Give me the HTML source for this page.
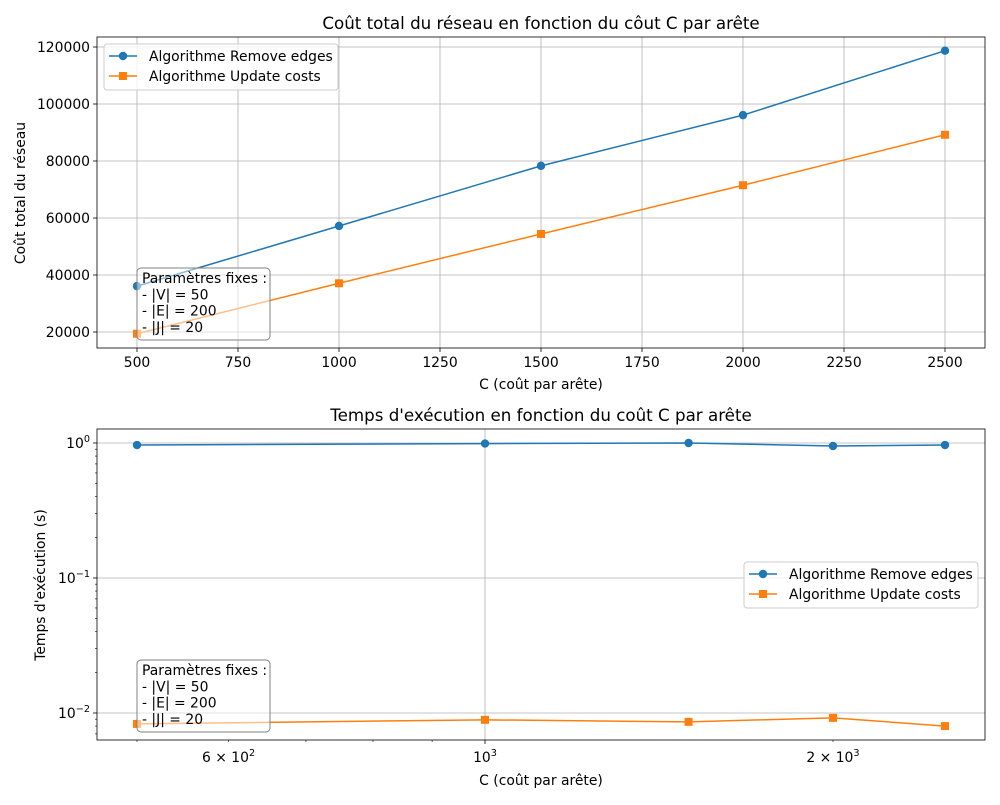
<!DOCTYPE html>
<html><head><meta charset="utf-8">
<style>
body{margin:0;background:#fff;}
svg text{font-family:"DejaVu Sans","Liberation Sans",sans-serif;fill:#000;}
</style></head>
<body>
<svg id="c" width="1000" height="800" xmlns="http://www.w3.org/2000/svg"></svg>
<script>
const categoriesC = [500, 1000, 1500, 2000, 2500];
const costRemove = [36100, 57200, 78300, 96100, 118700];
const costUpdate = [19400, 37100, 54400, 71500, 89200];
const timeRemove = [0.966, 0.99, 1.0, 0.95, 0.966];
const timeUpdate = [0.0083, 0.0089, 0.0086, 0.0092, 0.0080];
const topXTicks = [500, 750, 1000, 1250, 1500, 1750, 2000, 2250, 2500];
const topYTicks = [20000, 40000, 60000, 80000, 100000, 120000];

const NS = "http://www.w3.org/2000/svg";
const svg = document.getElementById('c');
const FS = 13.9, TFS = 16.7, SFS = 9.7;
function mk(tag, attrs, parent, text) {
  const e = document.createElementNS(NS, tag);
  for (const k in attrs) e.setAttribute(k, attrs[k]);
  if (text !== undefined) e.textContent = text;
  (parent || svg).appendChild(e);
  return e;
}
function supText(g, x, y, anchor, base, sup) {
  const t = mk('text', {x:x, y:y, 'text-anchor':anchor, 'font-size':FS}, g);
  mk('tspan', {}, t, base);
  mk('tspan', {dy:-6, 'font-size':SFS}, t, sup);
  return t;
}
const BLUE = '#1f77b4', ORANGE = '#ff7f0e';

// ---------- Top chart ----------
const T = {l:97, r:985, t:37, b:348};
const xT = v => 137 + (v - 500) * (808 / 2000);
const yT = v => 332 - (v - 20000) * (285 / 100000);
const gTop = mk('g', {});


topXTicks.forEach(v => {
  const x = xT(v);
  const gl = mk('line', {x1:x, x2:x, y1:T.t, y2:T.b, stroke:'#b0b0b0', 'stroke-width':0.8}, gTop);
  
  
  mk('line', {x1:x, x2:x, y1:T.b, y2:T.b+4, stroke:'#000', 'stroke-width':0.8}, gTop);
  const t = mk('text', {x:x, y:T.b+19, 'text-anchor':'middle', 'font-size':FS}, gTop, v);
  
  
});
topYTicks.forEach(v => {
  const y = yT(v);
  const gl = mk('line', {x1:T.l, x2:T.r, y1:y, y2:y, stroke:'#b0b0b0', 'stroke-width':0.8}, gTop);
  
  
  mk('line', {x1:T.l-4, x2:T.l, y1:y, y2:y, stroke:'#000', 'stroke-width':0.8}, gTop);
  const t = mk('text', {x:T.l-7, y:y+5, 'text-anchor':'end', 'font-size':FS}, gTop, v);
  
  
});
function series(g, xs, ys, fx, fy, color, marker, name) {
  const pts = xs.map((x,i)=>fx(x)+','+fy(ys[i])).join(' ');
  const pl = mk('polyline', {points:pts, fill:'none', stroke:color, 'stroke-width':1.5}, g);
  
  
  xs.forEach((x,i)=>{
    const cx = fx(x), cy = fy(ys[i]);
    let m;
    if (marker === 'o') m = mk('circle', {cx:cx, cy:cy, r:4.2, fill:color}, g);
    else m = mk('rect', {x:cx-4, y:cy-4, width:8, height:8, fill:color}, g);
    
    
  });
}
series(gTop, categoriesC, costRemove, xT, yT, BLUE, 'o', 'remove-edges');
series(gTop, categoriesC, costUpdate, xT, yT, ORANGE, 's', 'update-costs');
mk('rect', {x:T.l, y:T.t, width:T.r-T.l, height:T.b-T.t, fill:'none', stroke:'#000', 'stroke-width':0.8}, gTop);
let tt = mk('text', {x:541, y:29, 'text-anchor':'middle', 'font-size':TFS}, gTop, 'Coût total du réseau en fonction du côut C par arête');
 
tt = mk('text', {x:541, y:389, 'text-anchor':'middle', 'font-size':FS}, gTop, 'C (coût par arête)');
 
tt = mk('text', {x:25, y:193, 'text-anchor':'middle', 'font-size':FS, transform:'rotate(-90 25 193)'}, gTop, 'Coût total du réseau');
 

function legend(g, x, y) {
  const lg = mk('g', {}, g);
  
  
  mk('rect', {x:x, y:y, width:234, height:46, rx:3, fill:'#fff', 'fill-opacity':0.8, stroke:'#ccc'}, lg);
  [[BLUE,'o','Algorithme Remove edges'],[ORANGE,'s','Algorithme Update costs']].forEach((s,i)=>{
    const yy = y + 12 + i*20;
    const e = mk('g', {}, lg);
    
    
    mk('line', {x1:x+5, x2:x+33, y1:yy, y2:yy, stroke:s[0], 'stroke-width':1.5}, e);
    if (s[1]==='o') mk('circle', {cx:x+19, cy:yy, r:4.2, fill:s[0]}, e);
    else mk('rect', {x:x+15, y:yy-4, width:8, height:8, fill:s[0]}, e);
    mk('text', {x:x+45, y:yy+5, 'font-size':FS}, e, s[2]);
  });
}
function paramBox(g, x, y) {
  const b = mk('g', {}, g);
  
  
  mk('rect', {x:x, y:y, width:133, height:72, rx:4, fill:'#fff', 'fill-opacity':0.5, stroke:'#808080', 'stroke-width':1}, b);
  ['Paramètres fixes :','- |V| = 50','- |E| = 200','- |J| = 20'].forEach((s,i)=>{
    mk('text', {x:x+5, y:y+15+i*16.3, 'font-size':FS}, b, s);
  });
}
legend(gTop, 104, 44);
paramBox(gTop, 137, 268);

// ---------- Bottom chart ----------
const B = {l:97, r:985, t:429, b:740};
const xB = v => 485 + Math.log10(v/1000) * 1156;
const yB = v => 443 - Math.log10(v) * 135;
const gBot = mk('g', {});


let gl = mk('line', {x1:xB(1000), x2:xB(1000), y1:B.t, y2:B.b, stroke:'#b0b0b0', 'stroke-width':0.8}, gBot);
 
[1, 0.1, 0.01].forEach(v=>{
  const y = yB(v);
  const l = mk('line', {x1:B.l, x2:B.r, y1:y, y2:y, stroke:'#b0b0b0', 'stroke-width':0.8}, gBot);
   
  mk('line', {x1:B.l-4, x2:B.l, y1:y, y2:y, stroke:'#000', 'stroke-width':0.8}, gBot);
  const exp = Math.round(Math.log10(v));
  const t = supText(gBot, B.l-7, y+5, 'end', '10', exp===0?'0':'−'+(-exp));
   
});
[0.007,0.008,0.009,0.02,0.03,0.04,0.05,0.06,0.07,0.08,0.09,0.2,0.3,0.4,0.5,0.6,0.7,0.8,0.9].forEach(v=>{
  const y = yB(v);
  mk('line', {x1:B.l-2, x2:B.l, y1:y, y2:y, stroke:'#000', 'stroke-width':0.6}, gBot);
});
[500,600,700,800,900,2000].forEach(v=>{
  const x = xB(v);
  mk('line', {x1:x, x2:x, y1:B.b, y2:B.b+2, stroke:'#000', 'stroke-width':0.6}, gBot);
});
mk('line', {x1:xB(1000), x2:xB(1000), y1:B.b, y2:B.b+4, stroke:'#000', 'stroke-width':0.8}, gBot);
tt = supText(gBot, xB(1000), B.b+22, 'middle', '10', '3');
 
[[600,'6 × 10','2'],[2000,'2 × 10','3']].forEach(s=>{
  const t = supText(gBot, xB(s[0]), B.b+22, 'middle', s[1], s[2]);
   
});
series(gBot, categoriesC, timeRemove, xB, yB, BLUE, 'o', 'remove-edges-time');
series(gBot, categoriesC, timeUpdate, xB, yB, ORANGE, 's', 'update-costs-time');
mk('rect', {x:B.l, y:B.t, width:B.r-B.l, height:B.b-B.t, fill:'none', stroke:'#000', 'stroke-width':0.8}, gBot);
tt = mk('text', {x:541, y:421, 'text-anchor':'middle', 'font-size':TFS}, gBot, "Temps d'exécution en fonction du coût C par arête");
 
tt = mk('text', {x:541, y:785, 'text-anchor':'middle', 'font-size':FS}, gBot, 'C (coût par arête)');
 
tt = mk('text', {x:45, y:585, 'text-anchor':'middle', 'font-size':FS, transform:'rotate(-90 45 585)'}, gBot, "Temps d'exécution (s)");
 
legend(gBot, 744, 562);
paramBox(gBot, 137, 660);
</script>
</body></html>
